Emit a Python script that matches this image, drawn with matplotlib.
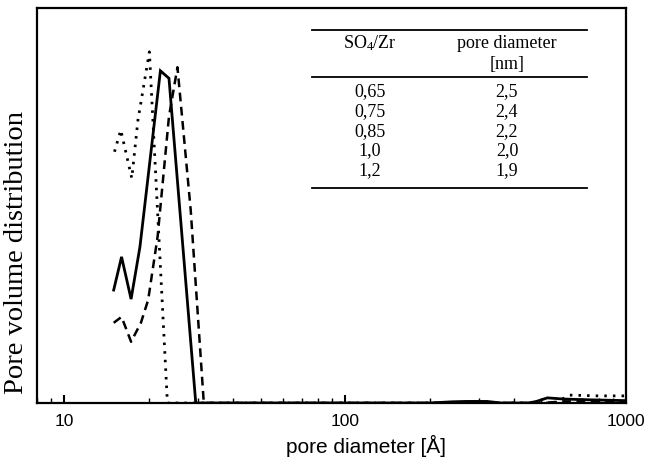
import matplotlib
matplotlib.use("Agg")
import matplotlib.pyplot as plt
import matplotlib.ticker as mticker

plt.rcParams["mathtext.fontset"] = "custom"
plt.rcParams["mathtext.rm"] = "Liberation Serif"
plt.rcParams["mathtext.it"] = "Liberation Serif:italic"

# ---- data ----
solid_x = [15.0, 16.0, 17.3, 18.6, 22.0, 23.6, 29.4, 200, 240, 270, 320, 360, 450, 480, 525, 600, 750, 1000]
solid_y = [28.6, 37.0, 26.3, 39.5, 84.1, 82.2, 0.0, 0.0, 0.3, 0.4, 0.4, 0.0, 0.0, 0.4, 1.3, 1.0, 0.8, 0.6]

dashed_x = [15.0, 16.0, 17.3, 18.75, 19.9, 21.5, 23.6, 25.3, 28.2, 31.4, 500, 600, 800, 1000]
dashed_y = [20.3, 21.8, 15.5, 20.3, 26.1, 42.1, 72.5, 85.0, 48.9, 0.0, 0.0, 0.4, 0.4, 0.4]

dotted_x = [15.1, 15.9, 17.4, 18.3, 20.1, 23.3, 560, 630, 800, 1000]
dotted_y = [63.6, 69.1, 56.9, 71.6, 88.9, 0.0, 0.0, 2.0, 1.8, 1.8]

table_ratio = ["0,65", "0,75", "0,85", "1,0", "1,2"]
table_pore = ["2,5", "2,4", "2,2", "2,0", "1,9"]
col_headers = [r"$\mathrm{SO}_4\mathrm{/Zr}$", "pore diameter", "[nm]"]

xticks = [10, 100, 1000]
xtick_labels = ["10", "100", "1000"]

# ---- figure ----
W, H = 649, 466
fig = plt.figure(figsize=(W / 100, H / 100), dpi=100)
ax = fig.add_axes([37 / W, 1 - 403 / H, (626 - 37) / W, (403 - 8) / H])

ax.plot(solid_x, solid_y, color="black", lw=2.0, solid_joinstyle="miter")
ax.plot(dashed_x, dashed_y, color="black", lw=1.8, linestyle=(0, (3.5, 2.2)))
ax.plot(dotted_x, dotted_y, color="black", lw=2.0, linestyle=(0, (0.9, 2.2)))

ax.set_xscale("log")
ax.set_xlim(8.0, 1000)
ax.set_ylim(0, 100)

ax.set_xticks(xticks)
ax.set_xticklabels(xtick_labels, fontfamily="Liberation Sans", fontsize=12.5)
ax.xaxis.set_minor_locator(mticker.LogLocator(base=10, subs=range(2, 10)))
ax.xaxis.set_minor_formatter(mticker.NullFormatter())
ax.tick_params(axis="x", which="major", direction="in", length=6, width=1.5, pad=8)
ax.tick_params(axis="x", which="minor", direction="in", length=3.5, width=1.0)
ax.set_yticks([])

for s in ax.spines.values():
    s.set_linewidth(1.6)

ax.set_xlabel("pore diameter [Å]", fontfamily="Liberation Sans", fontsize=15)
ax.xaxis.set_label_coords((366 - 37) / 589, -(435 - 403) / 395)
ax.set_ylabel("Pore volume distribution", fontfamily="Liberation Serif", fontsize=20.5)
ax.yaxis.set_label_coords(-(37 - 29) / 589, (403 - 253) / 395)

# ---- inset table drawn in figure pixel coords ----
def fx(px):
    return px / W

def fy(py):
    return 1 - py / H

tf = dict(fontfamily="Liberation Serif", fontsize=13, ha="center", va="center", transform=fig.transFigure)
for yy in (30, 77, 188):
    fig.add_artist(plt.Line2D([fx(312), fx(587)], [fy(yy), fy(yy)], color="black", lw=1.3, transform=fig.transFigure))
fig.text(fx(370), fy(43), col_headers[0], **tf)
fig.text(fx(507), fy(43), col_headers[1], **tf)
fig.text(fx(507), fy(64), col_headers[2], **tf)
rows_y = [92, 112, 132, 151, 171]
for r, p, yy in zip(table_ratio, table_pore, rows_y):
    fig.text(fx(370), fy(yy), r, **tf)
    fig.text(fx(507), fy(yy), p, **tf)

fig.savefig("out.png", dpi=100)
